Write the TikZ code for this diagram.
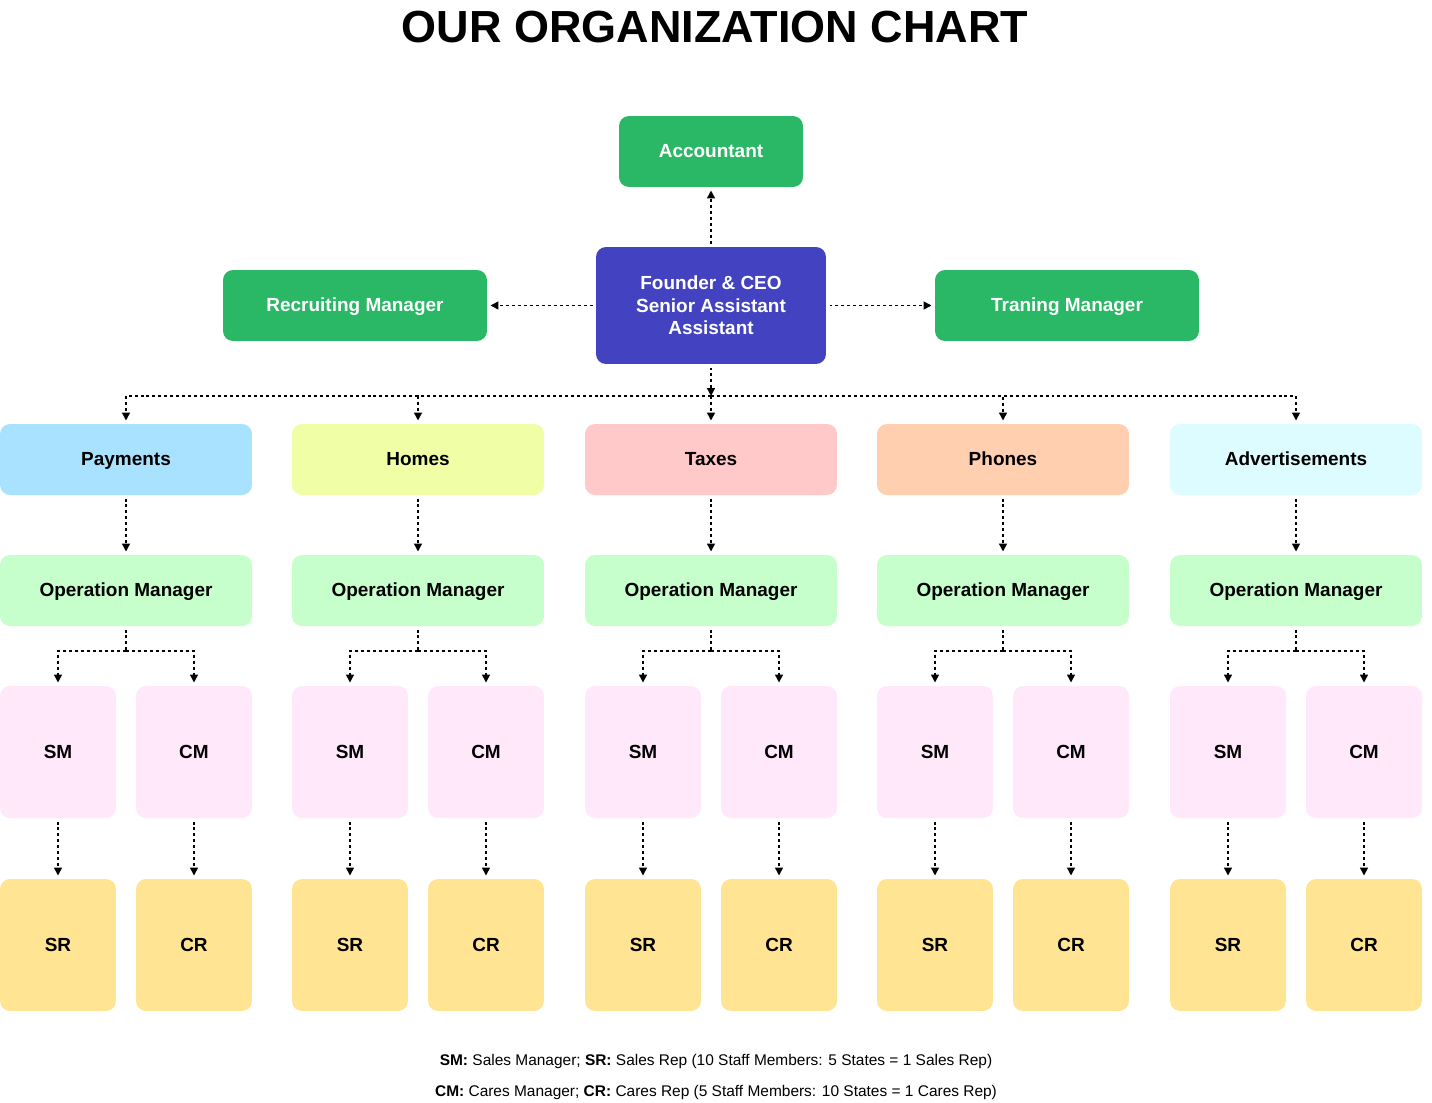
\documentclass[tikz,border=0pt]{standalone}
\usepackage{fontspec}
\setmainfont{Liberation Sans}
\usetikzlibrary{arrows.meta}

\definecolor{boardgreen}{RGB}{43,184,102}
\definecolor{ceoblue}{RGB}{67,67,193}
\definecolor{paycol}{RGB}{169,226,255}
\definecolor{homecol}{RGB}{240,255,165}
\definecolor{taxcol}{RGB}{255,201,201}
\definecolor{phonecol}{RGB}{255,207,176}
\definecolor{adcol}{RGB}{221,252,255}
\definecolor{opcol}{RGB}{198,255,204}
\definecolor{mgrcol}{RGB}{255,232,250}
\definecolor{repcol}{RGB}{255,228,148}

\tikzset{
    box/.style={rounded corners=0.2cm, align=center, inner sep=0pt,
        font=\fontsize{10.8}{12.8}\selectfont\bfseries},
    oneline/.style={box, text height=1.6ex, text depth=0.3ex},
    topbox/.style={oneline, fill=boardgreen, text=white, minimum height=1.42cm},
    deptbox/.style={oneline, minimum width=5.04cm, minimum height=1.42cm},
    smallbox/.style={oneline, minimum width=2.32cm, minimum height=2.64cm},
    conn/.style={line width=0.85pt, dash pattern=on 1.7pt off 1.7pt,
        -{Triangle[width=4.5pt,length=4.5pt]}, shorten >=1.8pt, shorten <=1.8pt}
}

\begin{document}
\begin{tikzpicture}[x=0.02cm, y=-0.02cm]
    \useasboundingbox (0,0) rectangle (1432,1102);

    % title
    \node[font=\fontsize{25.6}{28}\selectfont\bfseries] (title) at (715,27) {OUR ORGANIZATION CHART};

    % top of the chart
    \node[topbox, minimum width=3.68cm] (acct) at (711,151.5) {Accountant};
    \node[box, fill=ceoblue, text=white, minimum width=4.6cm, minimum height=2.34cm] (ceo) at (711,305.5) {Founder \& CEO\\Senior Assistant\\Assistant};
    \node[topbox, minimum width=5.28cm] (recruit) at (355,305.5) {Recruiting Manager};
    \node[topbox, minimum width=5.28cm] (train) at (1067,305.5) {Traning Manager};

    \draw[conn] (ceo) -- (acct);
    \draw[conn] (ceo) -- (recruit);
    \draw[conn] (ceo) -- (train);

    \coordinate (bus) at (711,396);
    \draw[conn, shorten >=0pt] (ceo) -- (bus);

    % departments
    \foreach \x/\nm/\lab/\col in {126/pay/Payments/paycol, 418/home/Homes/homecol,
        711/tax/Taxes/taxcol, 1003/phone/Phones/phonecol, 1296/ad/Advertisements/adcol}{
        \node[deptbox, fill=\col] (\nm) at (\x,459.5) {\lab};
        \node[deptbox, fill=opcol] (op\nm) at (\x,590.5) {Operation Manager};
        \node[smallbox, fill=mgrcol] (sm\nm) at (\x-68,752) {SM};
        \node[smallbox, fill=mgrcol] (cm\nm) at (\x+68,752) {CM};
        \node[smallbox, fill=repcol] (sr\nm) at (\x-68,945) {SR};
        \node[smallbox, fill=repcol] (cr\nm) at (\x+68,945) {CR};
        \coordinate (j\nm) at (\x,651);

        \draw[conn, shorten <=0pt] (bus) -| (\nm);
        \draw[conn] (\nm) -- (op\nm);
        \draw[conn, shorten >=0pt, -] (op\nm) -- (j\nm);
        \draw[conn, shorten <=0pt] (j\nm) -| (sm\nm);
        \draw[conn, shorten <=0pt] (j\nm) -| (cm\nm);
        \draw[conn] (sm\nm) -- (sr\nm);
        \draw[conn] (cm\nm) -- (cr\nm);
    }

    % legend
    \node[font=\fontsize{8.8}{10}\selectfont] (leg1) at (716,1061) {\textbf{SM:} Sales Manager; \textbf{SR:} Sales Rep (10 Staff Members: 5 States = 1 Sales Rep)};
    \node[font=\fontsize{8.8}{10}\selectfont] (leg2) at (716,1092) {\textbf{CM:} Cares Manager; \textbf{CR:} Cares Rep (5 Staff Members: 10 States = 1 Cares Rep)};
\end{tikzpicture}
\end{document}
